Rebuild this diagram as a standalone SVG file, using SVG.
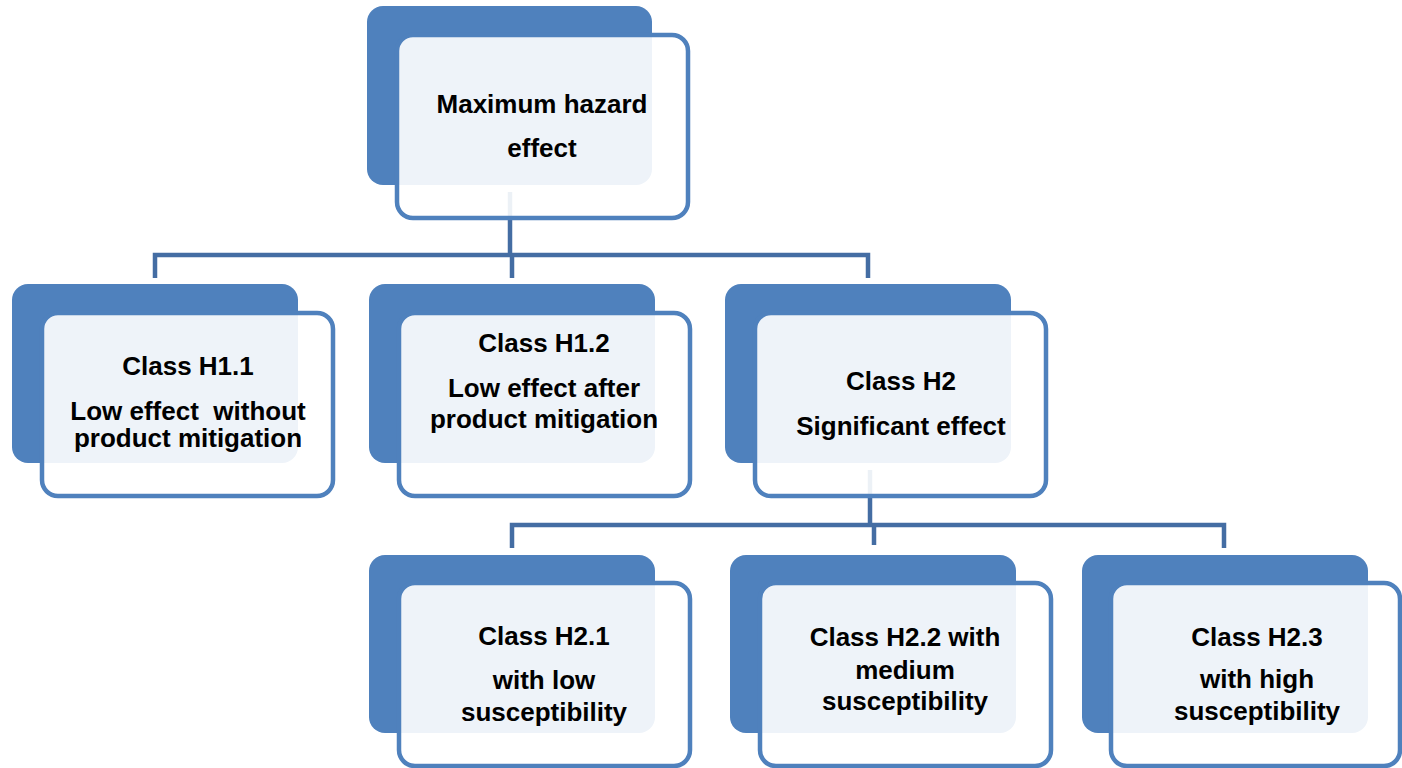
<svg xmlns="http://www.w3.org/2000/svg" width="1402" height="768" viewBox="0 0 1402 768">
<style>
.back{fill:#4F81BD}
.front{fill:#FFFFFF;fill-opacity:0.9;stroke:#4F81BD;stroke-width:4.5}
.t{font-family:"Liberation Sans",Arial,sans-serif;font-weight:bold;font-size:26px;fill:#000;text-anchor:middle}
.c{stroke:#446DA3;stroke-width:4.5;fill:none}
</style>
<rect width="1402" height="768" fill="#FFFFFF"/>
<g id="connectors">
<path class="c" d="M510 192 V255 M155 278 V255 H868 V278 M512 255 V278"/>
<path class="c" d="M870 470 V525 M512 548 V525 H1224 V548 M874 525 V545"/>
</g>
<g id="n0">
<rect class="back" x="367" y="6" width="285" height="179" rx="16"/>
<rect class="front" x="397" y="35" width="291" height="183" rx="16"/>
<text class="t" x="542" y="113">Maximum hazard</text>
<text class="t" x="542" y="157">effect</text>
</g>
<g id="n11">
<rect class="back" x="12" y="284" width="286" height="179" rx="16"/>
<rect class="front" x="42" y="313" width="291" height="183" rx="16"/>
<text class="t" x="188" y="375">Class H1.1</text>
<text class="t" x="188" y="420" xml:space="preserve">Low effect  without</text>
<text class="t" x="188" y="447">product mitigation</text>
</g>
<g id="n12">
<rect class="back" x="369" y="284" width="286" height="179" rx="16"/>
<rect class="front" x="399" y="313" width="291" height="183" rx="16"/>
<text class="t" x="544" y="352">Class H1.2</text>
<text class="t" x="544" y="397">Low effect after</text>
<text class="t" x="544" y="428">product mitigation</text>
</g>
<g id="n2">
<rect class="back" x="725" y="284" width="286" height="179" rx="16"/>
<rect class="front" x="755" y="313" width="291" height="183" rx="16"/>
<text class="t" x="901" y="390">Class H2</text>
<text class="t" x="901" y="435">Significant effect</text>
</g>
<g id="n21">
<rect class="back" x="369" y="555" width="286" height="178" rx="16"/>
<rect class="front" x="399" y="583" width="291" height="183" rx="16"/>
<text class="t" x="544" y="645">Class H2.1</text>
<text class="t" x="544" y="689">with low</text>
<text class="t" x="544" y="721">susceptibility</text>
</g>
<g id="n22">
<rect class="back" x="730" y="555" width="286" height="178" rx="16"/>
<rect class="front" x="760" y="583" width="291" height="183" rx="16"/>
<text class="t" x="905" y="646">Class H2.2 with</text>
<text class="t" x="905" y="679">medium</text>
<text class="t" x="905" y="710">susceptibility</text>
</g>
<g id="n23">
<rect class="back" x="1082" y="555" width="286" height="178" rx="16"/>
<rect class="front" x="1111" y="583" width="289" height="183" rx="16"/>
<text class="t" x="1257" y="646">Class H2.3</text>
<text class="t" x="1257" y="688">with high</text>
<text class="t" x="1257" y="720">susceptibility</text>
</g>
</svg>
